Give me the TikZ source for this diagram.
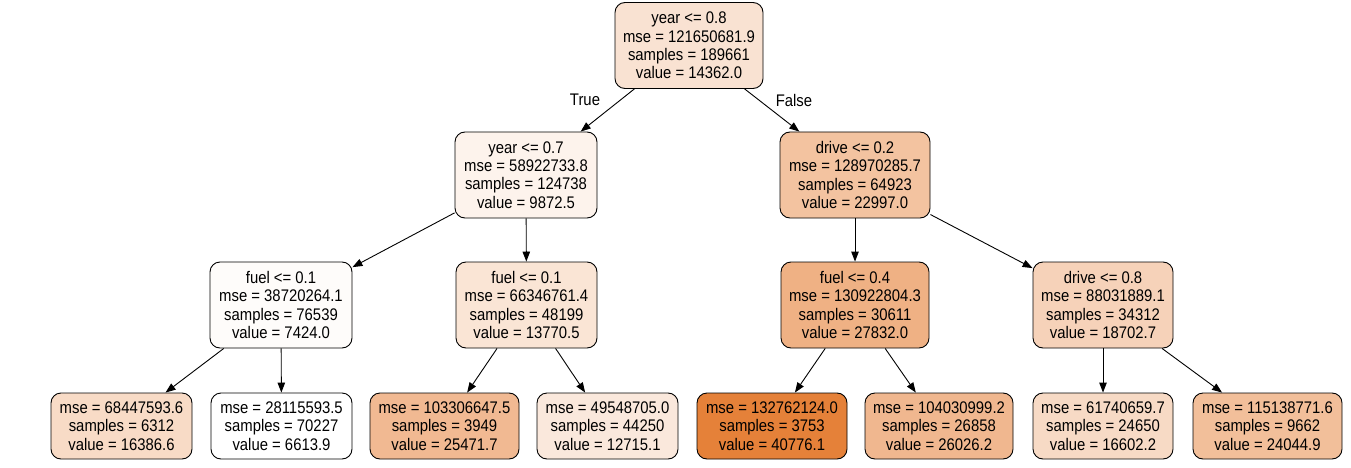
\documentclass[tikz,border=0pt]{standalone}
\usepackage{fontspec}
\setmainfont{Liberation Sans}[FakeStretch=0.885]
\usetikzlibrary{arrows.meta}
\definecolor{dt}{RGB}{229,129,57}
\tikzset{
  tn/.style={draw=black, line width=0.9pt, rounded corners=10pt, inner sep=0pt,
    align=center, text=black, font=\fontsize{16.8}{18.4}\selectfont},
  inner/.style={tn, minimum height=86pt},
  leaf/.style={tn, minimum height=66pt},
  edge/.style={draw=black, line width=0.9pt, -{Triangle[length=10pt,width=7.5pt]}},
  elab/.style={font=\fontsize{16.8}{18.4}\selectfont, inner sep=0pt}
}
\begin{document}
\begin{tikzpicture}[x=1pt,y=-1pt]
\useasboundingbox (0,0) rectangle (1351,468);
% root
\node[inner, fill=dt!22.7!white, minimum width=148pt] (r) at (689,45.5)
  {year <= 0.8\\mse = 121650681.9\\samples = 189661\\value = 14362.0};
% level 1
\node[inner, fill=dt!9.5!white, minimum width=142pt] (a) at (526,175)
  {year <= 0.7\\mse = 58922733.8\\samples = 124738\\value = 9872.5};
\node[inner, fill=dt!48!white, minimum width=150pt] (b) at (855,175)
  {drive <= 0.2\\mse = 128970285.7\\samples = 64923\\value = 22997.0};
% level 2
\node[inner, fill=dt!2.4!white, minimum width=142pt] (aa) at (281,305)
  {fuel <= 0.1\\mse = 38720264.1\\samples = 76539\\value = 7424.0};
\node[inner, fill=dt!21!white, minimum width=141pt] (ab) at (526.5,305)
  {fuel <= 0.1\\mse = 66346761.4\\samples = 48199\\value = 13770.5};
\node[inner, fill=dt!62!white, minimum width=148pt] (ba) at (855,305)
  {fuel <= 0.4\\mse = 130922804.3\\samples = 30611\\value = 27832.0};
\node[inner, fill=dt!35.4!white, minimum width=140pt] (bb) at (1103,305)
  {drive <= 0.8\\mse = 88031889.1\\samples = 34312\\value = 18702.7};
% leaves
\node[leaf, fill=dt!28.6!white, minimum width=141pt] (l1) at (121.5,426)
  {mse = 68447593.6\\samples = 6312\\value = 16386.6};
\node[leaf, fill=white, minimum width=141pt] (l2) at (281.5,426)
  {mse = 28115593.5\\samples = 70227\\value = 6613.9};
\node[leaf, fill=dt!55.2!white, minimum width=149pt] (l3) at (444.5,426)
  {mse = 103306647.5\\samples = 3949\\value = 25471.7};
\node[leaf, fill=dt!17.9!white, minimum width=141pt] (l4) at (607.5,426)
  {mse = 49548705.0\\samples = 44250\\value = 12715.1};
\node[leaf, fill=dt, minimum width=150pt] (l5) at (772,426)
  {mse = 132762124.0\\samples = 3753\\value = 40776.1};
\node[leaf, fill=dt!56.8!white, minimum width=148pt] (l6) at (939,426)
  {mse = 104030999.2\\samples = 26858\\value = 26026.2};
\node[leaf, fill=dt!29.2!white, minimum width=140pt] (l7) at (1103,426)
  {mse = 61740659.7\\samples = 24650\\value = 16602.2};
\node[leaf, fill=dt!51!white, minimum width=149pt] (l8) at (1267.5,426)
  {mse = 115138771.6\\samples = 9662\\value = 24044.9};
% edges
\draw[edge] (r) -- (a);
\draw[edge] (r) -- (b);
\draw[edge] (a) -- (aa);
\draw[edge] (a) -- (ab);
\draw[edge] (b) -- (ba);
\draw[edge] (b) -- (bb);
\draw[edge] (aa) -- (l1);
\draw[edge] (aa) -- (l2);
\draw[edge] (ab) -- (l3);
\draw[edge] (ab) -- (l4);
\draw[edge] (ba) -- (l5);
\draw[edge] (ba) -- (l6);
\draw[edge] (bb) -- (l7);
\draw[edge] (bb) -- (l8);
% edge labels
\node[elab] (tl) at (585,100) {True};
\node[elab] (fl) at (794,100) {False};
\end{tikzpicture}
\end{document}
